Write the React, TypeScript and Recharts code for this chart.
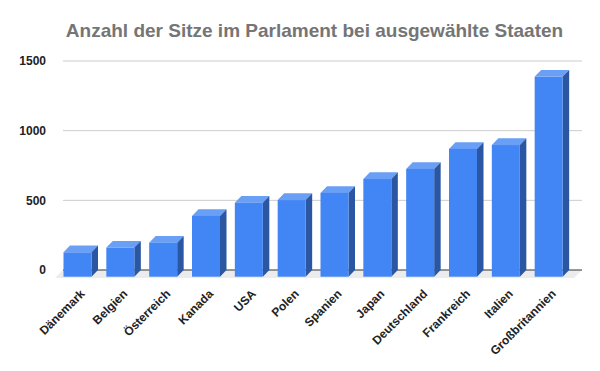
import React from "react";
import { BarChart, Bar, XAxis, YAxis, CartesianGrid } from "recharts";

const countries = [
  "Dänemark",
  "Belgien",
  "Österreich",
  "Kanada",
  "USA",
  "Polen",
  "Spanien",
  "Japan",
  "Deutschland",
  "Frankreich",
  "Italien",
  "Großbritannien",
];
const seats = [175, 209, 244, 436, 531, 550, 601, 701, 773, 917, 945, 1436];
const yTicks = [0, 500, 1000, 1500];
const title = "Anzahl der Sitze im Parlament bei ausgewählte Staaten";

const data = countries.map((name, i) => ({ name, seats: seats[i] }));

const DX = 6.5;
const DY = 6.7;
const FONT = "'Liberation Sans', Arial, sans-serif";

const Bar3D = (props: any) => {
  const { x, y, width, height } = props;
  if (width == null || height == null) return null;
  const fx = x - DX;
  const fy = y + DY;
  return (
    <g>
      <polygon
        points={`${fx},${fy} ${x},${y} ${x + width},${y} ${fx + width},${fy}`}
        fill="#6a9ff6"
      />
      <polygon
        points={`${fx + width},${fy} ${x + width},${y} ${x + width},${y + height} ${fx + width},${fy + height}`}
        fill="#2b57a2"
      />
      <rect x={fx} y={fy} width={width} height={height} fill="#4285f4" />
    </g>
  );
};

const GridLine = (props: any) => {
  const { x1, x2, y1, y, height } = props;
  const a = Math.min(x1, x2);
  const b = Math.max(x1, x2);
  const isBase = y != null && height != null && Math.abs(y1 - (y + height)) < 0.6;
  if (isBase) {
    const d = 8;
    return (
      <g>
        <polygon
          points={`${a},${y1} ${b},${y1} ${b - d},${y1 + d} ${a - d},${y1 + d}`}
          fill="#ececec"
        />
        <line x1={a} y1={y1} x2={b} y2={y1} stroke="#333" strokeWidth={1.2} />
      </g>
    );
  }
  return <line x1={a} y1={y1} x2={b} y2={y1} stroke="#cccccc" strokeWidth={1} />;
};

const XTick = (props: any) => {
  const { x, y, payload } = props;
  const ax = x + 1;
  const ay = y + 24.5;
  return (
    <text
      x={ax}
      y={ay}
      transform={`rotate(-45, ${ax}, ${ay})`}
      textAnchor="end"
      fontFamily={FONT}
      fontWeight="bold"
      fontSize={12}
      fill="#222"
    >
      {payload.value}
    </text>
  );
};

export default function App() {
  return (
    <div style={{ position: "absolute", left: 0, top: 0, width: 600, height: 371, background: "#fff" }}>
      <BarChart
        width={600}
        height={371}
        data={data}
        margin={{ top: 61, right: 18, left: 0, bottom: 0 }}
      >
        <CartesianGrid vertical={false} horizontal={(p: any) => <GridLine key={p.key} {...p} />} />
        <XAxis
          dataKey="name"
          height={101}
          interval={0}
          tickLine={false}
          axisLine={false}
          tickSize={0}
          tickMargin={0}
          padding={{ left: 0, right: 5 }}
          tick={<XTick />}
        />
        <YAxis
          domain={[0, 1500]}
          ticks={yTicks}
          width={63}
          tickLine={false}
          axisLine={false}
          tickSize={0}
          tickMargin={17}
          tick={{ fontFamily: FONT, fontWeight: "bold", fontSize: 12, fill: "#222" }}
        />
        <Bar dataKey="seats" barSize={28} isAnimationActive={false} shape={<Bar3D />} />
      </BarChart>
      <svg
        width={600}
        height={371}
        style={{ position: "absolute", left: 0, top: 0, pointerEvents: "none" }}
      >
        <text
          x={314.5}
          y={37}
          textAnchor="middle"
          fontFamily={FONT}
          fontWeight="bold"
          fontSize={19}
          fill="#757575"
        >
          {title}
        </text>
      </svg>
    </div>
  );
}
